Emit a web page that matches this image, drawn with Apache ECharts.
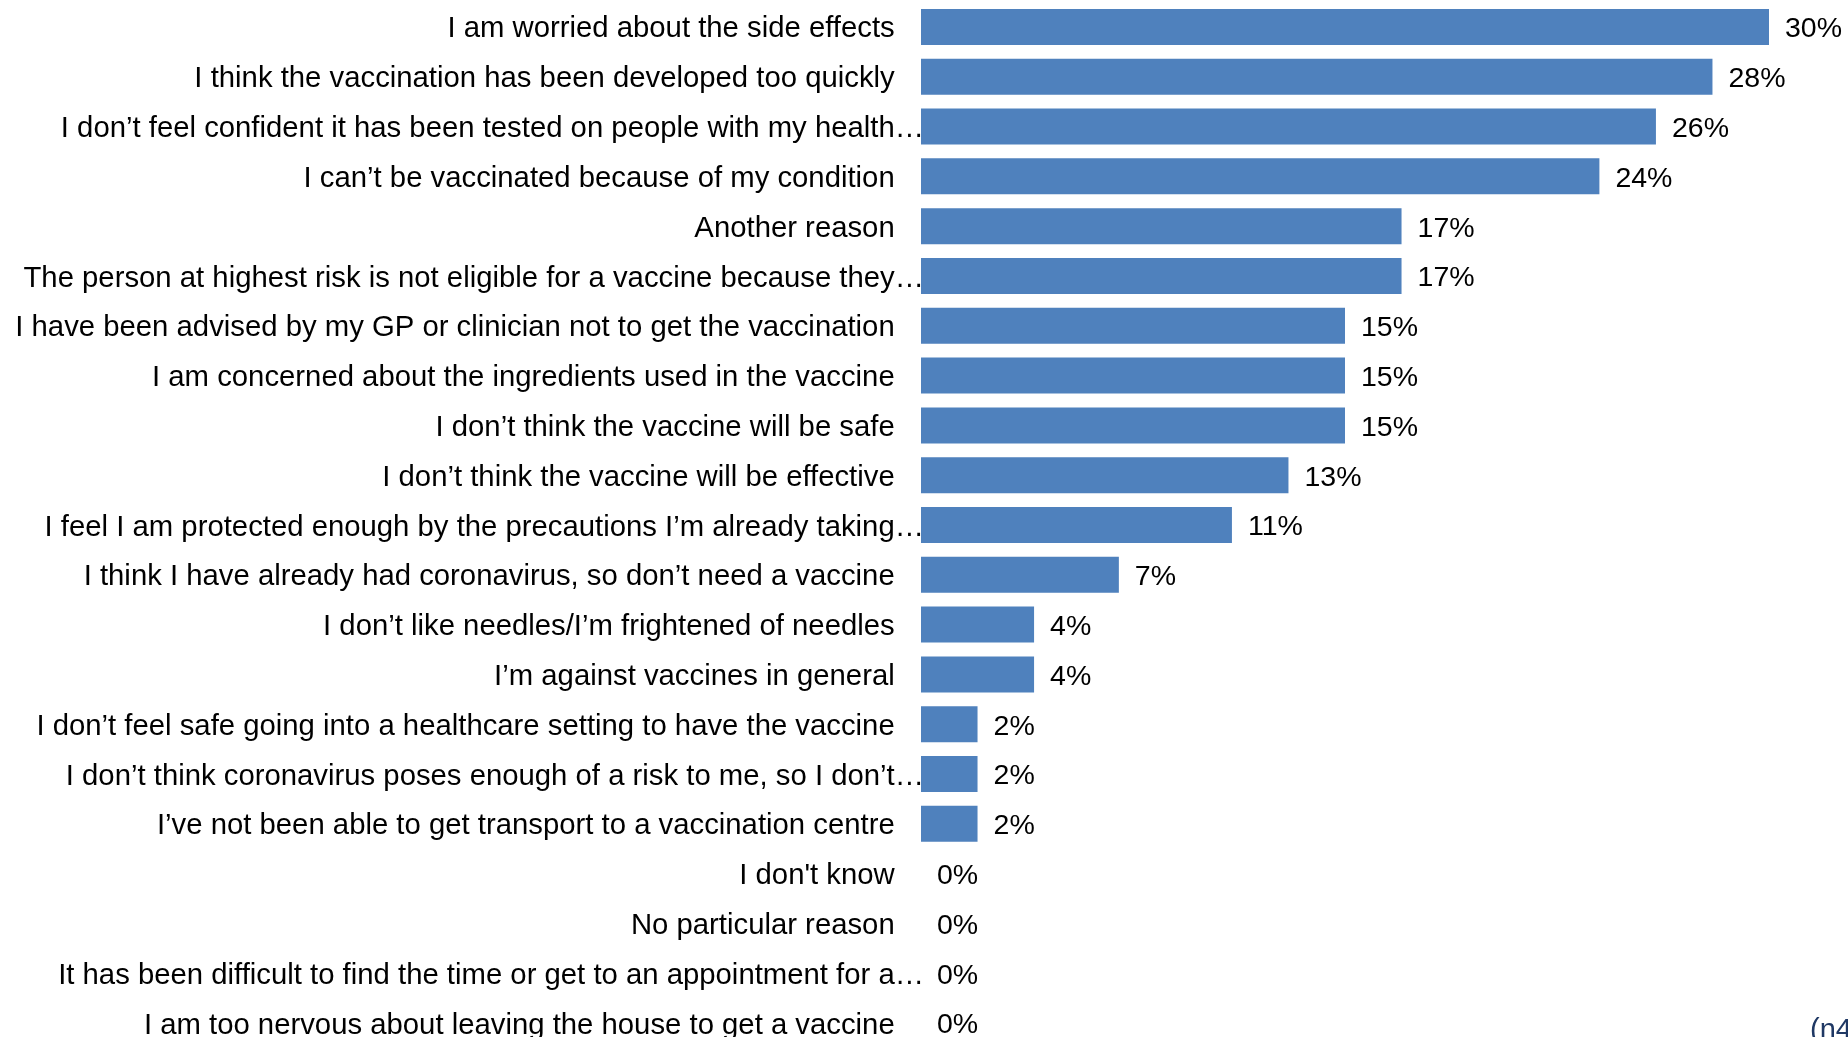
<!DOCTYPE html>
<html>
<head>
<meta charset="utf-8">
<script src="https://cdn.jsdelivr.net/npm/echarts@6/dist/echarts.min.js"></script>
<style>
  html, body { margin: 0; padding: 0; background: #ffffff; }
  #chart { width: 1848px; height: 1037px; }
</style>
</head>
<body>
<div id="chart"></div>
<script>
// Reasons for not getting the vaccine, share of respondents (%)
const reasons = [
  'I am worried about the side effects',
  'I think the vaccination has been developed too quickly',
  'I don\u2019t feel confident it has been tested on people with my health\u2026',
  'I can\u2019t be vaccinated because of my condition',
  'Another reason',
  'The person at highest risk is not eligible for a vaccine because they\u2026',
  'I have been advised by my GP or clinician not to get the vaccination',
  'I am concerned about the ingredients used in the vaccine',
  'I don\u2019t think the vaccine will be safe',
  'I don\u2019t think the vaccine will be effective',
  'I feel I am protected enough by the precautions I\u2019m already taking\u2026',
  'I think I have already had coronavirus, so don\u2019t need a vaccine',
  'I don\u2019t like needles/I\u2019m frightened of needles',
  'I\u2019m against vaccines in general',
  'I don\u2019t feel safe going into a healthcare setting to have the vaccine',
  'I don\u2019t think coronavirus poses enough of a risk to me, so I don\u2019t\u2026',
  'I\u2019ve not been able to get transport to a vaccination centre',
  'I don\'t know',
  'No particular reason',
  'It has been difficult to find the time or get to an appointment for a\u2026',
  'I am too nervous about leaving the house to get a vaccine'
];

const shares = [30, 28, 26, 24, 17, 17, 15, 15, 15, 13, 11, 7, 4, 4, 2, 2, 2, 0, 0, 0, 0];

const sampleNote = '(n4';

const chart = echarts.init(document.getElementById('chart'), null, { renderer: 'canvas' });

const FONT = '"Liberation Sans", Arial, sans-serif';
const CAT_SIZE = 29.3;

chart.setOption({
  animation: false,
  backgroundColor: '#ffffff',
  grid: {
    left: 921, width: 848, top: 2, height: 1046,
    containLabel: false,
    outerBoundsMode: 'none'
  },
  xAxis: {
    type: 'value',
    min: 0,
    max: 30,
    show: false
  },
  yAxis: {
    type: 'category',
    data: reasons,
    inverse: true,
    axisLine: { show: false },
    axisTick: { show: false },
    splitLine: { show: false },
    axisLabel: {
      margin: -3,
      padding: [5, 0, 0, 0],
      fontSize: CAT_SIZE,
      fontFamily: FONT,
      color: '#000000',
      // every label reserves a trailing ellipsis slot; truncated reasons fill it,
      // so their ellipsis runs past the text edge that the others share
      formatter: function (value) {
        if (value.endsWith('\u2026')) {
          return '{t|' + value.slice(0, -1) + '}{e|\u2026}';
        }
        return '{t|' + value + '}{h|\u2026}';
      },
      rich: {
        t: { fontSize: CAT_SIZE, fontFamily: FONT, color: '#000000' },
        e: { fontSize: CAT_SIZE, fontFamily: FONT, color: '#000000' },
        h: { fontSize: CAT_SIZE, fontFamily: FONT, color: 'rgba(0,0,0,0)' }
      }
    }
  },
  series: [{
    type: 'bar',
    data: shares,
    barWidth: 36,
    itemStyle: { color: '#4F81BD' },
    label: {
      show: true,
      position: 'right',
      distance: 16,
      offset: [0, 2.5],
      fontSize: 28.5,
      fontFamily: FONT,
      color: '#000000',
      formatter: function (p) { return p.value + '%'; }
    }
  }],
  graphic: [{
    type: 'text',
    left: 1810,
    top: 1016,
    style: {
      text: sampleNote,
      fontSize: 29,
      fontFamily: FONT,
      fill: '#1F3864'
    }
  }]
});
</script>
</body>
</html>
